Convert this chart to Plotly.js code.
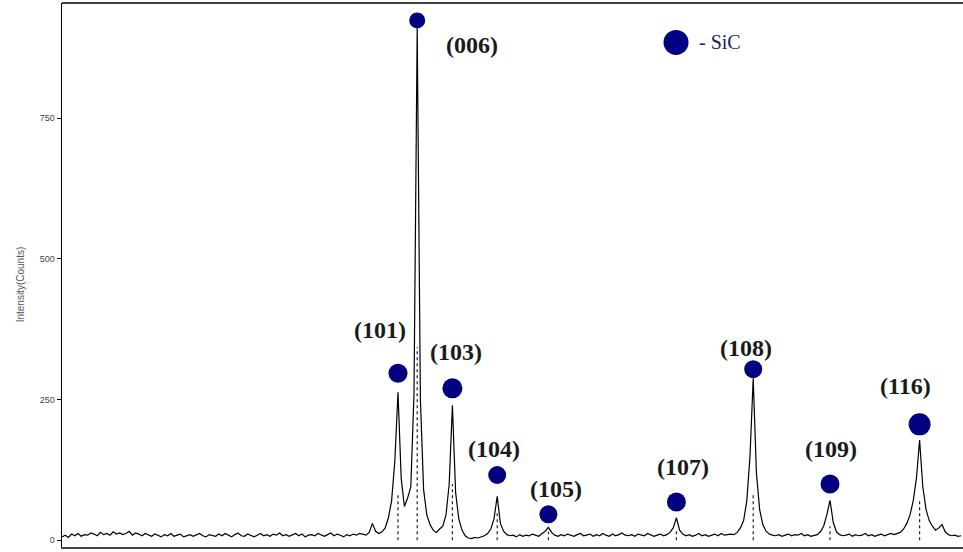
<!DOCTYPE html>
<html>
<head>
<meta charset="utf-8">
<script src="https://cdn.plot.ly/plotly-3.0.1.min.js"></script>
<style>html,body{margin:0;padding:0;background:#fff;}#chart{width:963px;height:552px;}</style>
</head>
<body>
<div id="chart"></div>
<script>
// XRD scan grid (2θ, degrees)
const twoThetaStart = 10;
const twoThetaStep = 0.25;
// Measured intensity (counts), one value per scan step
const intensity = [
  6, 9, 5, 11, 8, 12, 7, 10, 9, 13,
  11, 8, 14, 10, 12, 9, 15, 11, 13, 10,
  12, 16, 9, 13, 11, 8, 12, 10, 7, 11,
  9, 6, 10, 8, 12, 7, 9, 11, 6, 8,
  10, 7, 9, 12, 8, 6, 10, 9, 7, 11,
  8, 12, 9, 6, 10, 13, 8, 7, 11, 9,
  6, 9, 12, 8, 10, 7, 11, 9, 13, 8,
  10, 7, 9, 12, 8, 11, 6, 9, 10, 8,
  12, 9, 7, 10, 13, 8, 11, 9, 6, 10,
  8, 11, 9, 12, 10, 9, 14, 30, 16, 12,
  15, 22, 40, 70, 140, 263, 110, 60, 75, 95,
  260, 910, 250, 90, 45, 28, 18, 14, 20, 25,
  45, 100, 240, 85, 38, 18, 8, 4, 3, 5,
  4, 6, 8, 12, 20, 38, 78, 30, 16, 10,
  8, 9, 6, 10, 7, 9, 8, 11, 9, 7,
  12, 16, 23, 14, 9, 7, 10, 8, 11, 9,
  7, 10, 12, 8, 9, 11, 7, 10, 8, 12,
  9, 7, 11, 8, 10, 13, 9, 8, 10, 7,
  11, 9, 8, 12, 10, 7, 9, 11, 8, 10,
  14, 22, 40, 18, 11, 8, 10, 7, 9, 12,
  8, 10, 7, 9, 11, 8, 12, 9, 10, 11,
  10, 14, 22, 35, 70, 150, 288, 120, 55, 28,
  16, 11, 9, 8, 10, 7, 9, 11, 8, 10,
  9, 12, 8, 10, 7, 9, 10, 15, 25, 45,
  71, 32, 15, 10, 8, 9, 11, 7, 10, 8,
  9, 12, 8, 10, 7, 9, 11, 8, 10, 12,
  10, 12, 14, 20, 30, 45, 70, 110, 178, 95,
  55, 35, 25, 18, 22, 28, 15, 10, 8, 9,
  7, 8
];
// SiC reflections
const peakLabels = ["(101)", "(006)", "(103)", "(104)", "(105)", "(107)", "(108)", "(109)", "(116)"];
const peakPos = [36.25, 37.75, 40.5, 44, 48, 58, 64, 70, 77];
const markerY = [297, 924, 270, 116, 46, 68, 304, 100, 206];
const refLineY = [83, 343, 100, 53, 15, 20, 83, 25, 71];
const labelX = [34.84, 42.03, 40.78, 43.75, 48.59, 58.52, 63.44, 70.08, 75.86];
const labelY = [373, 881, 334, 162, 91, 131, 341, 162, 275];
const yTicks = [0, 250, 500, 750];

const twoTheta = intensity.map((_, i) => twoThetaStart + i * twoThetaStep);

const refX = [], refY = [];
peakPos.forEach((p, i) => { refX.push(p, p, null); refY.push(0, refLineY[i], null); });

const navy = "#000080";
const traces = [
  { x: refX, y: refY, mode: "lines", line: { color: "#222", width: 1.2, dash: "dot" }, hoverinfo: "skip" },
  { x: twoTheta, y: intensity, mode: "lines", line: { color: "#000", width: 1.2 }, hoverinfo: "skip" },
  { x: peakPos, y: markerY, mode: "markers", cliponaxis: false,
    marker: { color: navy, opacity: 1, size: [19, 16, 20, 18, 18, 19, 18, 19, 22], symbol: "circle", line: { width: 0 } } },
  { x: [57.97], y: [885], mode: "markers", cliponaxis: false,
    marker: { color: navy, opacity: 1, size: 25, symbol: "circle", line: { width: 0 } } }
];

const annotations = peakLabels.map((t, i) => ({
  x: labelX[i], y: labelY[i], xref: "x", yref: "y", text: "<b>" + t + "</b>", showarrow: false,
  font: { family: "Liberation Serif, Times New Roman, serif", size: 24, color: "#1a1a1a" },
  xanchor: "center", yanchor: "middle"
}));
annotations.push({
  x: 59.6, y: 885, xref: "x", yref: "y", text: "- SiC", showarrow: false,
  font: { family: "Liberation Serif, Times New Roman, serif", size: 20, color: "#1a1a6e" },
  xanchor: "left", yanchor: "middle"
});
annotations.push({
  x: -0.046, y: 0.482, xref: "paper", yref: "paper", text: "Intensity(Counts)", showarrow: false,
  textangle: -90, font: { family: "Liberation Sans, Arial, sans-serif", size: 10, color: "#555" },
  xanchor: "center", yanchor: "middle"
});

const layout = {
  width: 963, height: 552,
  margin: { l: 62, r: 0, t: 3, b: 5 },
  paper_bgcolor: "#fff", plot_bgcolor: "#fff",
  showlegend: false,
  xaxis: { range: [10, 80.39], showgrid: false, zeroline: false, showticklabels: false, ticks: "",
           showline: true, linecolor: "#444", linewidth: 2 },
  yaxis: { range: [-12, 955], tickvals: yTicks, ticktext: yTicks.map(String), showgrid: false, zeroline: false,
           ticks: "outside", ticklen: 4, tickcolor: "#000", showline: true, linecolor: "#000", linewidth: 1.5,
           tickfont: { family: "Liberation Sans, Arial, sans-serif", size: 9, color: "#444" } },
  shapes: [
    { type: "line", xref: "paper", yref: "paper", x0: 0, x1: 1, y0: 1, y1: 1, line: { color: "#000", width: 1.5 } }
  ],
  annotations: annotations
};

Plotly.newPlot("chart", traces, layout, { staticPlot: true, displayModeBar: false });
</script>
</body>
</html>
